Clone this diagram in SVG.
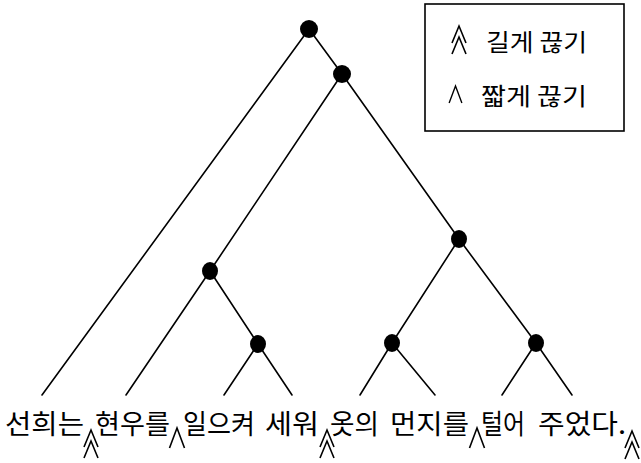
<svg xmlns="http://www.w3.org/2000/svg" xmlns:xlink="http://www.w3.org/1999/xlink" width="641" height="463" viewBox="0 0 641 463">
<style>
.edge{stroke:#000;stroke-width:1.6;fill:none;stroke-linecap:round}
.dot{fill:#000}
.mark{stroke:#000;stroke-width:1.6;fill:none;stroke-linejoin:miter}
.word{font-family:"Noto Sans CJK KR","Noto Sans",sans-serif;font-size:27px;fill:#000}
.leg{font-family:"Noto Sans CJK KR","Noto Sans",sans-serif;font-size:24px;fill:#000}
</style>
<defs>
<path id="longMark" d="M-7,17 L0,0 L7,17 M-7,28 L0,11 L7,28"/>
<path id="shortMark" d="M-7.5,20 L0,0 L7.5,20"/>
</defs>
<rect width="641" height="463" fill="#fff"/>
<g id="connectors">
<line class="edge" x1="309" y1="29" x2="42" y2="395"/>
<line class="edge" x1="309" y1="29" x2="342" y2="74"/>
<line class="edge" x1="342" y1="74" x2="210" y2="271"/>
<line class="edge" x1="342" y1="74" x2="459" y2="239"/>
<line class="edge" x1="210" y1="271" x2="126" y2="395"/>
<line class="edge" x1="210" y1="271" x2="258" y2="344"/>
<line class="edge" x1="258" y1="344" x2="224" y2="395"/>
<line class="edge" x1="258" y1="344" x2="292" y2="395"/>
<line class="edge" x1="459" y1="239" x2="392" y2="343"/>
<line class="edge" x1="459" y1="239" x2="536" y2="343"/>
<line class="edge" x1="392" y1="343" x2="360" y2="395"/>
<line class="edge" x1="392" y1="343" x2="435" y2="395"/>
<line class="edge" x1="536" y1="343" x2="502" y2="395"/>
<line class="edge" x1="536" y1="343" x2="572" y2="395"/>
</g>
<g id="node-root"><circle class="dot" cx="309" cy="29" r="9"/></g>
<g id="node-2"><circle class="dot" cx="342" cy="74" r="9"/></g>
<g id="node-3"><ellipse class="dot" cx="459" cy="239" rx="8" ry="9"/></g>
<g id="node-4"><ellipse class="dot" cx="210" cy="271" rx="8" ry="9"/></g>
<g id="node-5"><ellipse class="dot" cx="258" cy="344" rx="8" ry="9"/></g>
<g id="node-6"><ellipse class="dot" cx="392" cy="343" rx="8" ry="9"/></g>
<g id="node-7"><ellipse class="dot" cx="536" cy="343" rx="8" ry="9"/></g>
<g id="sentence">
<text class="word" x="5" y="434" textLength="79" lengthAdjust="spacingAndGlyphs">선희는</text>
<text class="word" x="95" y="434" textLength="75" lengthAdjust="spacingAndGlyphs">현우를</text>
<text class="word" x="183" y="434" textLength="72" lengthAdjust="spacingAndGlyphs">일으켜</text>
<text class="word" x="265" y="434" textLength="54" lengthAdjust="spacingAndGlyphs">세워</text>
<text class="word" x="330" y="434" textLength="49" lengthAdjust="spacingAndGlyphs">옷의</text>
<text class="word" x="390" y="434" textLength="79" lengthAdjust="spacingAndGlyphs">먼지를</text>
<text class="word" x="481" y="434" textLength="44" lengthAdjust="spacingAndGlyphs">털어</text>
<text class="word" x="538" y="434" textLength="88" lengthAdjust="spacingAndGlyphs">주었다.</text>
</g>
<g id="marks">
<use xlink:href="#longMark" href="#longMark" class="mark" transform="translate(91,430)"/>
<use xlink:href="#shortMark" href="#shortMark" class="mark" transform="translate(177,428)"/>
<use xlink:href="#longMark" href="#longMark" class="mark" transform="translate(327,430)"/>
<use xlink:href="#shortMark" href="#shortMark" class="mark" transform="translate(477,428)"/>
<use xlink:href="#longMark" href="#longMark" class="mark" transform="translate(632,431)"/>
</g>
<g id="legend">
<rect x="425" y="4" width="199" height="127" fill="#fff" stroke="#000" stroke-width="1.6"/>
<use xlink:href="#longMark" href="#longMark" class="mark" transform="translate(459,26)"/>
<text class="leg" x="486" y="51" textLength="101" lengthAdjust="spacingAndGlyphs">길게 끊기</text>
<use xlink:href="#shortMark" href="#shortMark" class="mark" transform="translate(455.5,86) scale(0.85)"/>
<text class="leg" x="481" y="105" textLength="106" lengthAdjust="spacingAndGlyphs">짧게 끊기</text>
</g>
</svg>
